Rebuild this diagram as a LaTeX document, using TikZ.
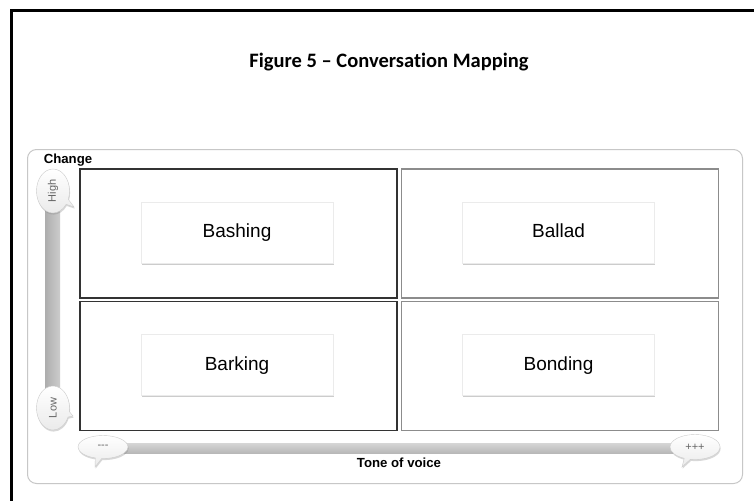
\documentclass[tikz,border=0pt]{standalone}
\usepackage{fontspec}
\setmainfont{Liberation Sans}
\newfontfamily\calibri[Ligatures={NoCommon,TeX}]{Carlito}
\usetikzlibrary{shadows,shapes.callouts}
\begin{document}
\begin{tikzpicture}[x=1pt,y=-1pt,
  quadA/.style={draw=black!80,line width=1.6pt,minimum width=317pt,minimum height=129pt,anchor=north west,inner sep=0pt},
  quadB/.style={draw=black!45,line width=1.6pt,minimum width=317pt,minimum height=129pt,anchor=north west,inner sep=0pt},
  labelbox/.style={fill=white,draw=black!8,minimum width=192pt,minimum height=61pt,text height=13.5pt,text depth=3.5pt,
    drop shadow={opacity=0.4,shadow xshift=0.6pt,shadow yshift=-1.8pt},font=\fontsize{19}{21}\selectfont},
  bubble/.style={ellipse callout,draw=black!20,line width=0.4pt,top color=white,bottom color=black!8,
    drop shadow={opacity=0.3,shadow xshift=0.6pt,shadow yshift=-1.6pt},inner sep=0pt,
    text=black!60,font=\fontsize{11}{12}\selectfont},
  axislabel/.style={font=\bfseries\fontsize{13.2}{14}\selectfont,inner sep=0pt}
]
\useasboundingbox (0,0) rectangle (754,501);
\fill[white] (0,0) rectangle (754,501);
% outer frame
\draw[line width=3pt] (754,10.5) -- (11,10.5) -- (11,501);
% title
\node[font=\calibri\bfseries\fontsize{20.5}{23}\selectfont] (title) at (389,62) {Figure 5 – Conversation Mapping};
% panel
\node[draw=black!22,line width=1pt,rounded corners=9pt,minimum width=715pt,minimum height=334pt,fill=white,anchor=north west,inner sep=0pt] (panel) at (27,149) {};
% bars
\fill[left color=black!32,right color=black!20] (45,205) rectangle (60,392);
\fill[top color=black!16,bottom color=black!28] (115,443) rectangle (680,453);
% quadrants
\node[quadA] (q1) at (79,168) {};
\node[quadB] (q2) at (400.5,168) {};
\node[quadA] (q3) at (79,300.5) {};
\node[quadB] (q4) at (400.5,300.5) {};
% label boxes
\node[labelbox] (bashing) at (237,232.5) {Bashing};
\node[labelbox] (ballad) at (558.5,232.5) {Ballad};
\node[labelbox] (barking) at (237,365) {Barking};
\node[labelbox] (bonding) at (558.5,365) {Bonding};
% bubbles
\node[bubble,minimum width=33pt,minimum height=44pt,callout absolute pointer={(74,207)}] (high) at (53,191) {\rotatebox{90}{High}};
\node[bubble,minimum width=33pt,minimum height=44pt,callout absolute pointer={(73,416)}] (low) at (53,408) {\rotatebox{90}{Low}};
\node[bubble,minimum width=50pt,minimum height=23pt,callout absolute pointer={(95,467)}] (minus) at (103,447) {-{}-{}-};
\node[bubble,minimum width=50pt,minimum height=25pt,callout absolute pointer={(682,467)}] (plus) at (695,447) {+++};
% axis labels
\node[axislabel] (change) at (68,160) {Change};
\node[axislabel] (tone) at (399,463) {Tone of voice};
\end{tikzpicture}
\end{document}
